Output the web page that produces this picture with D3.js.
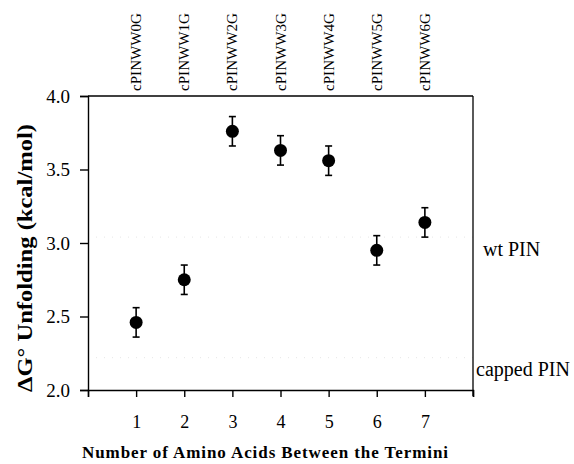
<!DOCTYPE html>
<html>
<head>
<meta charset="utf-8">
<script src="https://cdn.jsdelivr.net/npm/d3@7"></script>
<style>
  body { margin: 0; background: #fff; }
  text { font-family: "Liberation Serif", "DejaVu Serif", serif; fill: #000; }
</style>
</head>
<body>
<div id="chart"></div>
<script>
// data -------------------------------------------------------------------------
const aminoAcids = [1, 2, 3, 4, 5, 6, 7];
const constructs = ['cPINWW0G', 'cPINWW1G', 'cPINWW2G', 'cPINWW3G', 'cPINWW4G', 'cPINWW5G', 'cPINWW6G'];
const dG = [2.46, 2.75, 3.76, 3.63, 3.56, 2.95, 3.14];
const dGErr = [0.1, 0.1, 0.1, 0.1, 0.1, 0.1, 0.1];
const yTicks = [2.0, 2.5, 3.0, 3.5, 4.0];
const xTicks = [1, 2, 3, 4, 5, 6, 7];
const refNames = ['wt PIN', 'capped PIN'];
const refValues = [2.96, 2.14];

// layout -----------------------------------------------------------------------
const width = 574, height = 464;
const margin = {top: 96, right: 101, bottom: 74, left: 88};
const iw = width - margin.left - margin.right;
const ih = height - margin.top - margin.bottom;

const svg = d3.select('#chart').append('svg')
  .attr('width', width)
  .attr('height', height);

const g = svg.append('g')
  .attr('transform', 'translate(' + margin.left + ',' + margin.top + ')');

const x = d3.scaleLinear().domain([0, 8]).range([0, iw]);
const y = d3.scaleLinear().domain([2, 4]).range([ih, 0]);

// faint reference levels -------------------------------------------------------
g.selectAll('.ref')
  .data(refValues)
  .enter().append('line')
  .attr('x1', 0).attr('x2', iw)
  .attr('y1', d => y(d + 0.08)).attr('y2', d => y(d + 0.08))
  .attr('stroke', '#e6e6e6')
  .attr('stroke-width', 1)
  .attr('stroke-dasharray', '1,7');

g.selectAll('.refLabel')
  .data(refNames)
  .enter().append('text')
  .attr('x', (d, i) => i === 0 ? iw + 10 : iw + 3)
  .attr('y', (d, i) => y(refValues[i]) + 7)
  .attr('font-size', '20px')
  .text(d => d);

// axes -------------------------------------------------------------------------
const xAxis = g.append('g')
  .attr('transform', 'translate(0,' + ih + ')')
  .call(d3.axisBottom(x).tickValues([0].concat(xTicks, [8])).tickSize(7).tickPadding(18)
    .tickFormat(d => (d === 0 || d === 8) ? '' : d));
xAxis.select('.domain').attr('stroke-width', 1.4);
xAxis.selectAll('.tick line').attr('stroke-width', 1.4);
xAxis.selectAll('text').attr('font-size', '18px')
  .style('font-family', '"Liberation Serif", serif');

const yAxis = g.append('g')
  .call(d3.axisLeft(y).tickValues(yTicks).tickSize(8).tickPadding(10).tickFormat(d3.format('.1f')));
yAxis.select('.domain').attr('stroke-width', 1.4);
yAxis.selectAll('.tick line').attr('stroke-width', 1.4);
yAxis.selectAll('text').attr('font-size', '19px')
  .style('font-family', '"Liberation Serif", serif');

// frame top / right
g.append('line').attr('x1', 0).attr('x2', iw).attr('y1', 0).attr('y2', 0)
  .attr('stroke', '#000').attr('stroke-width', 1.3);
g.append('line').attr('x1', iw).attr('x2', iw).attr('y1', 0).attr('y2', ih + 6)
  .attr('stroke', '#000').attr('stroke-width', 1.3);

// top construct labels ---------------------------------------------------------
g.selectAll('.construct')
  .data(constructs)
  .enter().append('text')
  .attr('transform', (d, i) => 'translate(' + (x(aminoAcids[i]) + 5) + ',-5) rotate(-90)')
  .attr('font-size', '15px')
  .attr('textLength', 78)
  .attr('lengthAdjust', 'spacingAndGlyphs')
  .text(d => d);

// error bars -------------------------------------------------------------------
const eb = g.selectAll('.err')
  .data(aminoAcids)
  .enter().append('g');
eb.append('line')
  .attr('x1', d => x(d)).attr('x2', d => x(d))
  .attr('y1', (d, i) => y(dG[i] - dGErr[i]))
  .attr('y2', (d, i) => y(dG[i] + dGErr[i]))
  .attr('stroke', '#000').attr('stroke-width', 1.6);
eb.selectAll('.cap')
  .data((d, i) => [{a: d, v: dG[i] - dGErr[i]}, {a: d, v: dG[i] + dGErr[i]}])
  .enter().append('line')
  .attr('x1', d => x(d.a) - 3.5).attr('x2', d => x(d.a) + 3.5)
  .attr('y1', d => y(d.v)).attr('y2', d => y(d.v))
  .attr('stroke', '#000').attr('stroke-width', 1.6);

// points -----------------------------------------------------------------------
g.selectAll('.pt')
  .data(aminoAcids)
  .enter().append('circle')
  .attr('cx', d => x(d))
  .attr('cy', (d, i) => y(dG[i]))
  .attr('r', 6.5)
  .attr('fill', '#000');

// axis titles ------------------------------------------------------------------
svg.append('text')
  .attr('transform', 'translate(32,' + 258 + ') rotate(-90)')
  .attr('text-anchor', 'middle')
  .attr('font-size', '20px')
  .attr('font-weight', 'bold')
  .attr('textLength', 268)
  .attr('lengthAdjust', 'spacingAndGlyphs')
  .text('ΔG° Unfolding (kcal/mol)');

svg.append('text')
  .attr('x', 265)
  .attr('y', 458)
  .attr('text-anchor', 'middle')
  .attr('font-size', '17px')
  .attr('font-weight', 'bold')
  .attr('textLength', 366)
  .attr('lengthAdjust', 'spacing')
  .text('Number of Amino Acids Between the Termini');
</script>
</body>
</html>
